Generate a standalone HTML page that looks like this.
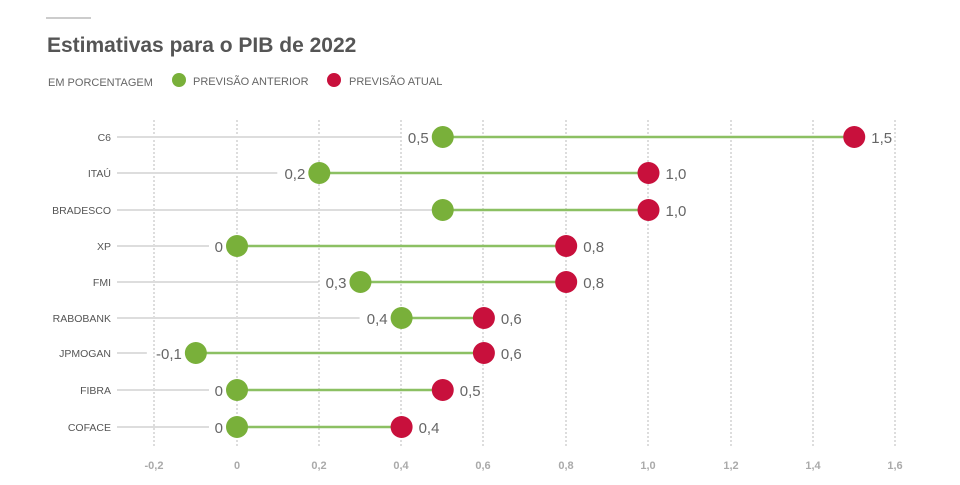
<!DOCTYPE html>
<html><head><meta charset="utf-8"><style>
body{margin:0;background:#fff;width:960px;height:480px;overflow:hidden;font-family:"Liberation Sans",sans-serif}
</style></head><body>
<svg width="960" height="480" xmlns="http://www.w3.org/2000/svg" font-family="Liberation Sans, sans-serif">
<line x1="46" y1="18" x2="91" y2="18" stroke="#ccc" stroke-width="2"/>
<text x="47" y="52" font-size="21" font-weight="bold" fill="#555">Estimativas para o PIB de 2022</text>
<text x="48" y="86" font-size="11" fill="#666">EM PORCENTAGEM</text>
<circle cx="179" cy="80" r="7" fill="#79b03a"/>
<text x="193" y="85" font-size="11" fill="#666">PREVISÃO ANTERIOR</text>
<circle cx="334" cy="80" r="7" fill="#c8103c"/>
<text x="349" y="85" font-size="11" fill="#666">PREVISÃO ATUAL</text>
<g stroke="#bbb" stroke-width="1" stroke-dasharray="2,2">
<line x1="154" y1="120" x2="154" y2="446"/><line x1="237" y1="120" x2="237" y2="446"/>
<line x1="319" y1="120" x2="319" y2="446"/><line x1="401" y1="120" x2="401" y2="446"/>
<line x1="483" y1="120" x2="483" y2="446"/><line x1="566" y1="120" x2="566" y2="446"/>
<line x1="648" y1="120" x2="648" y2="446"/><line x1="731" y1="120" x2="731" y2="446"/>
<line x1="813" y1="120" x2="813" y2="446"/><line x1="895" y1="120" x2="895" y2="446"/>
</g>
<g font-size="11" font-weight="bold" fill="#aaa" text-anchor="middle">
<text x="154" y="469">-0,2</text><text x="237" y="469">0</text><text x="319" y="469">0,2</text>
<text x="401" y="469">0,4</text><text x="483" y="469">0,6</text><text x="566" y="469">0,8</text>
<text x="648" y="469">1,0</text><text x="731" y="469">1,2</text><text x="813" y="469">1,4</text><text x="895" y="469">1,6</text>
</g>
<g id="rows"></g>
</svg>
<script>
var rows=[["C6",137,0.5,1.5,1],["ITAÚ",173,0.2,1.0,1],["BRADESCO",210,0.5,1.0,0],["XP",246,0,0.8,1],["FMI",282,0.3,0.8,1],["RABOBANK",318,0.4,0.6,1],["JPMOGAN",353,-0.1,0.6,1],["FIBRA",390,0,0.5,1],["COFACE",427,0,0.4,1]];
var X=function(v){return 237+411.5*v};
var s="";
function f(v){return v==0?"0":v.toFixed(1).replace(".",",");}
rows.forEach(function(r){
 var y=r[1],g=X(r[2]),d=X(r[3]);
 var lw=r[4]?(f(r[2]).length*7+4):0;
 var gEnd=r[4]?g-17-lw:g;
 s+='<text x="111" y="'+(y+4)+'" font-size="10.5" fill="#555" text-anchor="end">'+r[0]+'</text>';
 s+='<line x1="117" y1="'+y+'" x2="'+gEnd+'" y2="'+y+'" stroke="#ddd" stroke-width="2"/>';
 s+='<line x1="'+g+'" y1="'+y+'" x2="'+d+'" y2="'+y+'" stroke="#8cc063" stroke-width="2.5"/>';
 if(r[4]) s+='<text x="'+(g-14)+'" y="'+(y+6)+'" font-size="15" fill="#666" text-anchor="end">'+f(r[2])+'</text>';
 s+='<circle cx="'+g+'" cy="'+y+'" r="11" fill="#79b03a"/>';
 s+='<circle cx="'+d+'" cy="'+y+'" r="11" fill="#c8103c"/>';
 s+='<text x="'+(d+17)+'" y="'+(y+6)+'" font-size="15" fill="#666">'+f(r[3])+'</text>';
});
document.getElementById("rows").innerHTML=s;
</script>
</body></html>
